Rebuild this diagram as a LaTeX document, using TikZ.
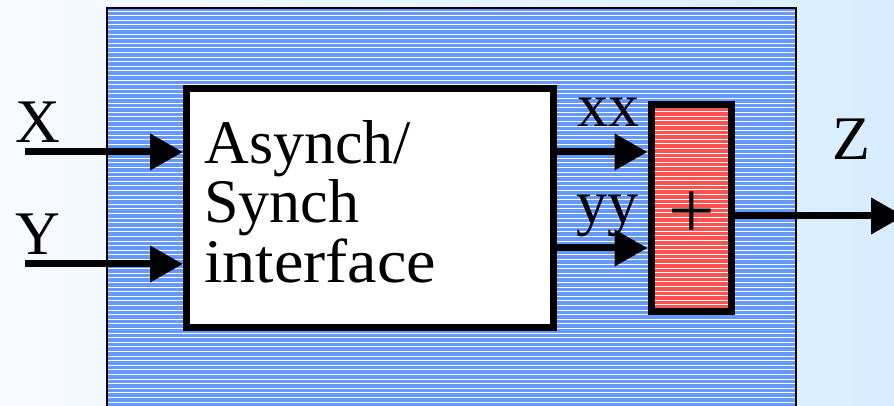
\documentclass[tikz,border=0pt]{standalone}
\usepackage{fontspec}
\usepackage{graphicx}
\setmainfont{Liberation Serif}
\usetikzlibrary{arrows.meta}
\definecolor{bgleft}{RGB}{248,251,255}
\definecolor{bgright}{RGB}{215,237,255}
\definecolor{panelblue}{RGB}{102,153,255}
\definecolor{addred}{RGB}{255,80,80}
\tikzset{
    stripe/.style={white,line width=0.7pt},
    bigfont/.style={font=\fontsize{46.5pt}{44.6pt}\selectfont},
    sig/.style={line width=5.25pt,-{Triangle[length=24.75pt,width=26.25pt]}},
    lbl/.style={bigfont,anchor=base west,inner sep=0pt}
}
\begin{document}
\begin{tikzpicture}[x=0.75pt,y=0.75pt,yscale=-1,xscale=1]
\clip (0,0) rectangle (894,406);

%Background
\shade[left color=bgleft,right color=bgright] (0,0) rectangle (894,406);
%Shape: striped panel
\fill[panelblue] (107,8) rectangle (796,420);
\foreach \y in {11,15.6,...,420}
    \draw[stripe] (108,\y) -- (795,\y);
\draw[line width=1.5pt] (107,8) rectangle (796,420);

%Interface block
\node[draw,fill=white,line width=5.25pt,minimum width=275.6pt,minimum height=179.6pt] (iface) at (370.25,208.25) {};
\node[bigfont,align=left,anchor=north west,inner sep=0pt] (ifacetxt) at (204,120)
      {Asynch/\\Synch\\\scalebox{1.07}[1]{interface}};
%Adder block: fill, stripes, then border
\node[fill=addred,outer sep=0pt,minimum width=60pt,minimum height=155.6pt] (adder) at (691,208.25) {};
\foreach \y in {107,111.6,...,312}
    \draw[stripe] (adder.west |- 0,\y) -- (adder.east |- 0,\y);
\draw[line width=5.25pt] (adder.north west) rectangle (adder.south east);
\node[font=\fontsize{62pt}{62pt}\selectfont,inner sep=0pt] (plus) at (692,215) {+};

%Ends of the signal lines
\coordinate (xin) at (25,152);
\coordinate (yin) at (25,264);
\coordinate (zout) at (904,216);

%Straight Lines
\draw[sig] (xin) -- (xin -| iface.west);
\draw[sig] (yin) -- (yin -| iface.west);
\draw[sig,shorten >=2.6pt] (iface.east |- xin) -- (adder.west |- xin);
\draw[sig,shorten >=2.6pt] (iface.east |- 0,248) -- (adder.west |- 0,248);
\draw[sig] (adder.east |- zout) -- (zout);

% Text Node
\node[lbl] (xlbl) at (15,143) {X};
\node[lbl] (ylbl) at (15,255) {Y};
\node[lbl] (xxlbl) at (577,127) {xx};
\node[lbl] (yylbl) at (576,224) {yy};
\node[lbl] (zlbl) at (832,160) {Z};

\end{tikzpicture}
\end{document}
